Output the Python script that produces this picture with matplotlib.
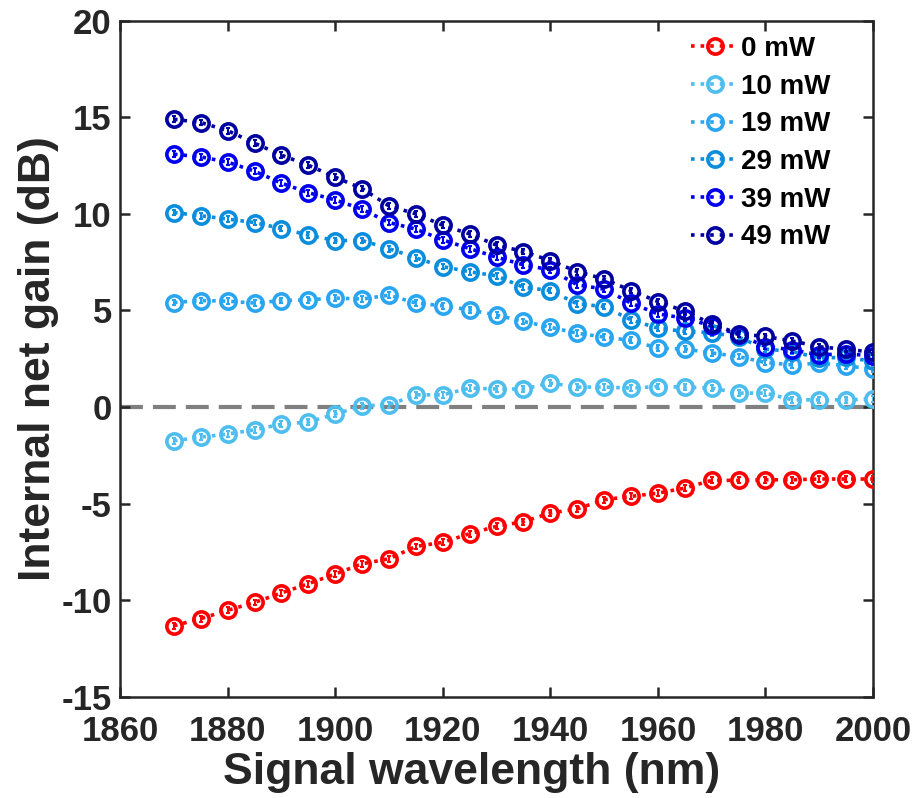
import numpy as np
import matplotlib
matplotlib.use("Agg")
import matplotlib.pyplot as plt

plt.rcParams['font.family'] = ['Liberation Sans', 'DejaVu Sans']
plt.rcParams['font.weight'] = 'bold'
plt.rcParams['axes.unicode_minus'] = False

# signal wavelengths (nm)
wl = np.arange(1870, 2001, 5)

# internal net gain (dB) for each pump power
g0 = [-11.33, -10.96, -10.53, -10.12, -9.63, -9.15, -8.65, -8.12, -7.86, -7.22, -7.01, -6.56, -6.18, -5.94,
      -5.49, -5.28, -4.80, -4.63, -4.46, -4.20, -3.80, -3.80, -3.77, -3.77, -3.73, -3.73, -3.73]
g10 = [-1.75, -1.56, -1.40, -1.18, -0.89, -0.78, -0.37, 0.06, 0.11, 0.63, 0.63, 0.98, 0.93, 0.93,
       1.24, 1.03, 1.03, 0.98, 1.06, 1.03, 0.98, 0.72, 0.72, 0.37, 0.37, 0.37, 0.41]
g19 = [5.41, 5.51, 5.48, 5.38, 5.51, 5.55, 5.64, 5.59, 5.79, 5.38, 5.24, 5.03, 4.76, 4.43,
       4.13, 3.82, 3.62, 3.45, 3.05, 3.00, 2.80, 2.61, 2.30, 2.18, 2.27, 2.14, 1.95]
g29 = [10.07, 9.90, 9.73, 9.55, 9.24, 8.90, 8.62, 8.62, 8.20, 7.72, 7.27, 7.00, 6.79, 6.20,
       6.03, 5.34, 5.20, 4.51, 4.08, 3.91, 3.85, 3.62, 3.00, 2.87, 2.53, 2.58, 2.36]
g39 = [13.09, 12.95, 12.68, 12.21, 11.59, 11.10, 10.72, 10.24, 9.55, 9.21, 8.65, 8.20, 7.76, 7.36,
       7.10, 6.33, 6.10, 5.38, 4.82, 4.60, 4.20, 3.75, 3.13, 2.96, 2.70, 2.75, 2.65]
g49 = [14.90, 14.73, 14.31, 13.66, 13.04, 12.52, 11.90, 11.31, 10.41, 10.00, 9.41, 8.96, 8.38, 8.05,
       7.58, 7.01, 6.63, 6.03, 5.46, 4.96, 4.31, 3.79, 3.65, 3.42, 3.12, 2.98, 2.85]

labels = ['0 mW', '10 mW', '19 mW', '29 mW', '39 mW', '49 mW']
gains = [g0, g10, g19, g29, g39, g49]
err_db = [0.15, 0.15, 0.15, 0.15, 0.15, 0.15]
colors = ['#ff0000', '#4dbeee', '#2aa6f0', '#0a8ddc', '#0000ee', '#0000a0']

fig = plt.figure(figsize=(9.17, 7.98), dpi=100)
ax = fig.add_axes([0.131, 0.127, 0.821, 0.847])

ax.axhline(0, color='#808080', lw=3, dashes=(5.5, 2.4), zorder=1)

for lab, g, e, c in zip(labels, gains, err_db, colors):
    ax.errorbar(wl, g, yerr=e, fmt='none', ecolor=c, elinewidth=1.5,
                capsize=1.5, capthick=1.5, zorder=3)
    ax.plot(wl, g, color=c, ls=':', lw=2.6, marker='o', ms=11, mfc='none',
            mec=c, mew=2.6, label=lab, zorder=3)

ax.set_xlim(1860, 2000)
ax.set_ylim(-15, 20)
ax.set_xticks(np.arange(1860, 2001, 20))
ax.set_yticks(np.arange(-15, 21, 5))

ax.tick_params(direction='in', length=7, width=1.8, labelsize=25, colors='#262626',
               top=True, right=True)
ax.tick_params(axis='x', pad=13)
ax.tick_params(axis='y', pad=6)
for s in ax.spines.values():
    s.set_linewidth(1.8)
    s.set_color('#262626')

ax.set_xlabel('Signal wavelength (nm)', fontsize=32, fontweight='bold', color='#262626', labelpad=3)
ax.xaxis.label.set_x(0.4675)
ax.set_ylabel('Internal net gain (dB)', fontsize=32, fontweight='bold', color='#262626', labelpad=2)

leg = ax.legend(loc='upper right', bbox_to_anchor=(0.964, 1.0), frameon=False, fontsize=20,
                handlelength=1.7, handletextpad=0.1, labelspacing=0.42, borderaxespad=0.15)
for t in leg.get_texts():
    t.set_fontweight('bold')

fig.savefig('out.png', dpi=100)
